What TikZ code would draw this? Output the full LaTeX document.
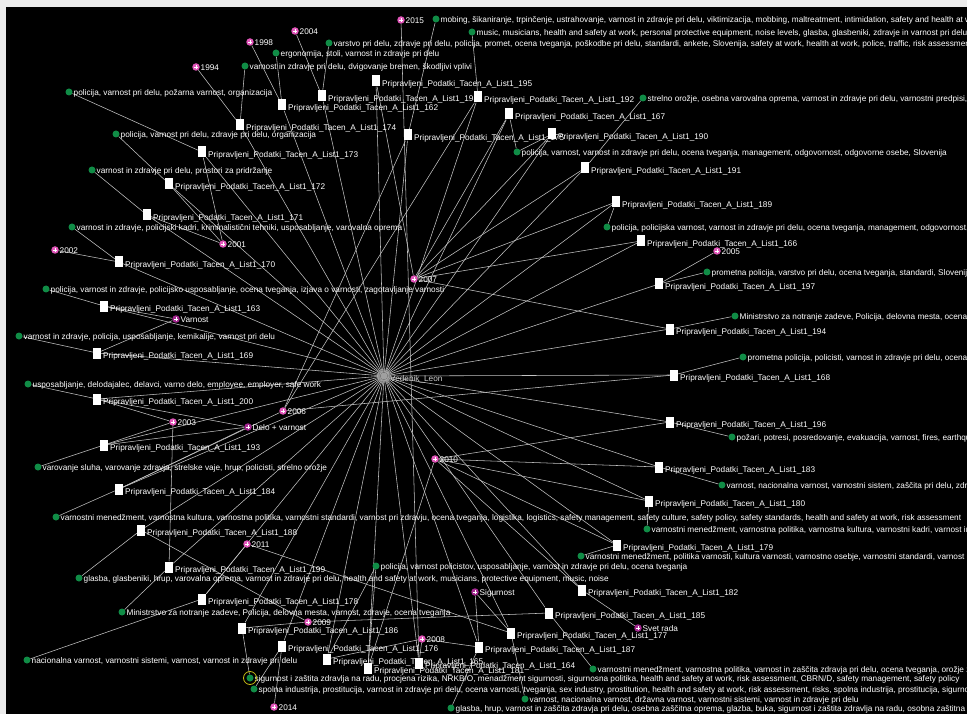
\documentclass[tikz,border=0pt]{standalone}
\usepackage{fontspec}
\setmainfont{Liberation Sans}
\pgfdeclarelayer{bg}\pgfdeclarelayer{lab}
\pgfsetlayers{bg,lab,main}
\definecolor{edgec}{RGB}{195,195,195}
\definecolor{grn}{RGB}{16,140,70}
\definecolor{pnk}{RGB}{226,86,186}
\definecolor{jrn}{RGB}{165,40,145}
\definecolor{framec}{RGB}{236,236,236}
\definecolor{ctrc}{RGB}{160,160,160}
\definecolor{ctrtxt}{RGB}{205,205,205}
\definecolor{hilite}{RGB}{195,185,20}
\tikzset{
 sqn/.style={rectangle, fill=white, minimum width=8pt, minimum height=11pt, inner sep=0pt, draw=none},
 gdot/.style={circle, fill=grn, minimum size=7pt, inner sep=0pt},
 ydot/.style={circle, fill=pnk, minimum size=7.5pt, inner sep=0pt,
   path picture={\draw[white,line width=0.45pt]
     ([xshift=-1.6pt]path picture bounding box.center) -- ([xshift=1.6pt]path picture bounding box.center)
     ([yshift=-1.6pt]path picture bounding box.center) -- ([yshift=1.6pt]path picture bounding box.center);}},
 jdot/.style={ydot, fill=jrn},
 lbl/.style={text=white, font=\fontsize{8.25}{9}\selectfont, inner sep=0pt, anchor=west, text height=5.9pt, text depth=1.6pt},
 lnk/.style={draw=edgec, line width=0.55pt},
}
\newcommand\mkS[3]{\node[sqn] (s#1) at (#2,#3) {};\begin{pgfonlayer}{lab}\node[lbl] (s#1l) at (#2+6,#3+3.5) {Pripravljeni\_Podatki\_Tacen\_A\_List1\_#1};\end{pgfonlayer}}
\newcommand\mkG[4]{\node[gdot] (#1) at (#2,#3) {};\begin{pgfonlayer}{lab}\node[lbl] (#1l) at (#2+4.5,#3+1.2) {#4};\end{pgfonlayer}}
\newcommand\mkY[4]{\node[ydot] (#1) at (#2,#3) {};\begin{pgfonlayer}{lab}\node[lbl] (#1l) at (#2+4.5,#3+1.5) {#4};\end{pgfonlayer}}
\newcommand\mkJ[4]{\node[jdot] (#1) at (#2,#3) {};\begin{pgfonlayer}{lab}\node[lbl] (#1l) at (#2+4.5,#3+1.5) {#4};\end{pgfonlayer}}
\begin{document}
\begin{tikzpicture}[x=1pt,y=-1pt]
\useasboundingbox (0,0) rectangle (967,714);
\clip (0,0) rectangle (967,714);
\begin{pgfonlayer}{bg}
\fill[framec] (0,0) rectangle (967,714);
\fill[black] (6,7) rectangle (967,714);
\end{pgfonlayer}
% centre
\fill[ctrc, opacity=0.45] (384,376) circle (7);
\node[circle, fill=ctrc, minimum size=7pt, inner sep=0pt] (ctr) at (384,376) {};
\begin{pgfonlayer}{lab}\node[lbl, text=ctrtxt] (ctrl) at (390,379) {Vedenik\_Leon};\end{pgfonlayer}
% record nodes
\mkS{162}{282}{105}
\mkS{198}{322}{96}
\mkS{195}{376}{81}
\mkS{175}{408}{135}
\mkS{192}{478}{97}
\mkS{167}{509}{114}
\mkS{190}{552}{134}
\mkS{191}{585}{168}
\mkS{189}{616}{202}
\mkS{166}{641}{241}
\mkS{197}{659}{284}
\mkS{194}{670}{329}
\mkS{168}{674}{375}
\mkS{196}{670}{422}
\mkS{183}{659}{467}
\mkS{180}{649}{501}
\mkS{179}{617}{545}
\mkS{182}{582}{590}
\mkS{185}{549}{613}
\mkS{177}{511}{633}
\mkS{187}{479}{647}
\mkS{165}{327}{659}
\mkS{181}{368}{668}
\mkS{164}{419}{663}
\mkS{176}{282}{646}
\mkS{186}{242}{628}
\mkS{178}{202}{599}
\mkS{199}{169}{567}
\mkS{188}{141}{530}
\mkS{184}{119}{489}
\mkS{193}{104}{445}
\mkS{200}{97}{399}
\mkS{169}{97}{353}
\mkS{163}{104}{306}
\mkS{170}{119}{262}
\mkS{171}{147}{215}
\mkS{172}{169}{184}
\mkS{173}{202}{152}
\mkS{174}{240}{125}
% keywords
\mkG{gMobing}{436}{19}{mobing, šikaniranje, trpinčenje, ustrahovanje, varnost in zdravje pri delu, viktimizacija, mobbing, maltreatment, intimidation, safety and health at work}
\mkG{gMusic}{472}{32}{music, musicians, health and safety at work, personal protective equipment, noise levels, glasba, glasbeniki, zdravje in varnost pri delu}
\mkG{gVarstvo}{329}{43}{varstvo pri delu, zdravje pri delu, policija, promet, ocena tveganja, poškodbe pri delu, standardi, ankete, Slovenija, safety at work, health at work, police, traffic, risk assessment}
\mkG{gErgo}{276}{53}{ergonomija, stoli, varnost in zdravje pri delu}
\mkG{gDvig}{245}{66}{varnost in zdravje pri delu, dvigovanje bremen, škodljivi vplivi}
\mkG{gPozarna}{69}{92}{policija, varnost pri delu, požarna varnost, organizacija}
\mkG{gPolOrg}{116}{134}{policija, varnost pri delu, zdravje pri delu, organizacija}
\mkG{gProstori}{92}{170}{varnost in zdravje pri delu, prostori za pridržanje}
\mkG{gKadri}{72}{227}{varnost in zdravje, policijski kadri, kriminalistični tehniki, usposabljanje, varovalna oprema}
\mkG{gStrelno}{643}{98}{strelno orožje, osebna varovalna oprema, varnost in zdravje pri delu, varnostni predpisi,}
\mkG{gOdgov}{517}{152}{policija, varnost, varnost in zdravje pri delu, ocena tveganja, management, odgovornost, odgovorne osebe, Slovenija}
\mkG{gPolVarn}{607}{227}{policija, policijska varnost, varnost in zdravje pri delu, ocena tveganja, management, odgovornost,}
\mkG{gPromVar}{707}{272}{prometna policija, varstvo pri delu, ocena tveganja, standardi, Slovenija}
\mkG{gPolUsp}{46}{289}{policija, varnost in zdravje, policijsko usposabljanje, ocena tveganja, izjava o varnosti, zagotavljanje varnosti}
\mkG{gMinR}{735}{316}{Ministrstvo za notranje zadeve, Policija, delovna mesta, ocena tveganja}
\mkG{gKem}{19}{336}{varnost in zdravje, policija, usposabljanje, kemikalije, varnost pri delu}
\mkG{gPromPol}{743}{357}{prometna policija, policisti, varnost in zdravje pri delu, ocena tveganja}
\mkG{gUsp}{28}{384}{usposabljanje, delodajalec, delavci, varno delo, employee, employer, safe work}
\mkG{gPozari}{732}{437}{požari, potresi, posredovanje, evakuacija, varnost, fires, earthquakes}
\mkG{gSluh}{38}{467}{varovanje sluha, varovanje zdravja, strelske vaje, hrup, policisti, strelno orožje}
\mkG{gNacVar}{722}{485}{varnost, nacionalna varnost, varnostni sistem, zaščita pri delu, zdravje}
\mkG{gVMleft}{56}{517}{varnostni menedžment, varnostna kultura, varnostna politika, varnostni standardi, varnost pri zdravju, ocena tveganja, logistika, logistics, safety management, safety culture, safety policy, safety standards, health and safety at work, risk assessment}
\mkG{gVMkadri}{647}{529}{varnostni menedžment, varnostna politika, varnostna kultura, varnostni kadri, varnost in zdravje}
\mkG{gVMpol}{581}{556}{varnostni menedžment, politika varnosti, kultura varnosti, varnostno osebje, varnostni standardi, varnost in}
\mkG{gPolPol}{376}{566}{policija, varnost policistov, usposabljanje, varnost in zdravje pri delu, ocena tveganja}
\mkG{gGlasba}{79}{578}{glasba, glasbeniki, hrup, varovalna oprema, varnost in zdravje pri delu, health and safety at work, musicians, protective equipment, music, noise}
\mkG{gMinL}{122}{612}{Ministrstvo za notranje zadeve, Policija, delovna mesta, varnost, zdravje, ocena tveganja}
\mkG{gNacL}{27}{660}{nacionalna varnost, varnostni sistemi, varnost, varnost in zdravje pri delu}
\mkG{gVMbot}{593}{669}{varnostni menedžment, varnostna politika, varnost in zaščita zdravja pri delu, ocena tveganja, orožje z}
\mkG{gSigZas}{250}{678}{sigurnost i zaštita zdravlja na radu, procjena rizika, NRKB/O, menadžment sigurnosti, sigurnosna politika, health and safety at work, risk assessment, CBRN/D, safety management, safety policy}
\mkG{gSpolna}{254}{689}{spolna industrija, prostitucija, varnost in zdravje pri delu, ocena varnosti, tveganja, sex industry, prostitution, health and safety at work, risk assessment, risks, spolna industrija, prostitucija, sigurnost}
\mkG{gDrz}{525}{699}{varnost, nacionalna varnost, državna varnost, varnostni sistemi, varnost in zdravje pri delu}
\mkG{gGlHrup}{451}{708}{glasba, hrup, varnost in zaščita zdravja pri delu, osebna zaščitna oprema, glazba, buka, sigurnost i zaštita zdravlja na radu, osobna zaštitna}
\draw[hilite, line width=0.8pt] (gSigZas) circle (6.5);
% years
\mkY{y2015}{401}{20}{2015}
\mkY{y2004}{295}{31}{2004}
\mkY{y1998}{250}{42}{1998}
\mkY{y1994}{196}{67}{1994}
\mkY{y2001}{223}{244}{2001}
\mkY{y2002}{55}{250}{2002}
\mkY{y2005}{717}{251}{2005}
\mkY{y2007}{414}{279}{2007}
\mkY{y2006}{283}{411}{2006}
\mkY{y2003}{173}{422}{2003}
\mkY{y2010}{435}{459}{2010}
\mkY{y2011}{247}{544}{2011}
\mkY{y2009}{308}{622}{2009}
\mkY{y2008}{422}{639}{2008}
\mkY{y2014}{274}{707}{2014}
% journals
\mkJ{jVarnost}{176}{319}{Varnost}
\mkJ{jDelo}{248}{427}{Delo + varnost}
\mkJ{jSig}{475}{592}{Sigurnost}
\mkJ{jSvet}{638}{628}{Svet rada}
% connectors
\begin{pgfonlayer}{bg}
\foreach \n in {162,163,164,165,166,167,168,169,170,171,172,173,174,175,176,177,178,179,180,181,182,183,184,185,186,187,188,189,190,191,192,193,194,195,196,197,198,199,200}
  \draw[lnk] (ctr) -- (s\n);
\foreach \a/\b in {s162/gErgo, s162/y1998, s198/gVarstvo, s198/y2004, s195/y2007,
  s175/gMobing, s175/y2006, s192/gMusic, s192/y2006, s167/gOdgov, s167/y2007,
  s190/gOdgov, s190/y2007, s191/gStrelno, s191/y2007, s189/gPolVarn, s189/y2007,
  s166/y2007, s197/gPromVar, s197/y2005, s194/gMinR, s194/y2007, s168/gPromPol, s168/y2006,
  s196/gPozari, s196/y2010, s183/gNacVar, s183/y2010, s180/gVMkadri, s180/y2010,
  s179/gVMpol, s179/y2010, s182/jSvet, s182/y2010, s185/gVMbot, s185/y2009,
  s177/gDrz, s177/jSig, s177/y2011, s187/jSig, s187/y2008, s187/gGlHrup,
  s164/y2015, s164/y2008, s181/gPolPol, s181/y2010, s165/gPolPol, s165/y2008,
  s176/gSpolna, s176/y2014, s186/gSigZas, s186/y2009, s178/gNacL, s178/y2011,
  s199/gMinL, s199/y2003, s188/gGlasba, s188/y2009, s184/gVMleft, s184/y2006, s184/jDelo,
  s193/gSluh, s193/y2003, s193/jDelo, s200/gUsp, s200/y2003, s200/jDelo,
  s169/gKem, s169/jVarnost, s163/gPolUsp, s163/jVarnost, s170/y2002, s170/gKadri,
  s171/gProstori, s171/y2001, s172/gPolOrg, s172/y2001, s173/gPozarna, s173/y2001,
  s174/gDvig, s174/y1994}
  \draw[lnk] (\a) -- (\b);
\end{pgfonlayer}
\end{tikzpicture}
\end{document}
